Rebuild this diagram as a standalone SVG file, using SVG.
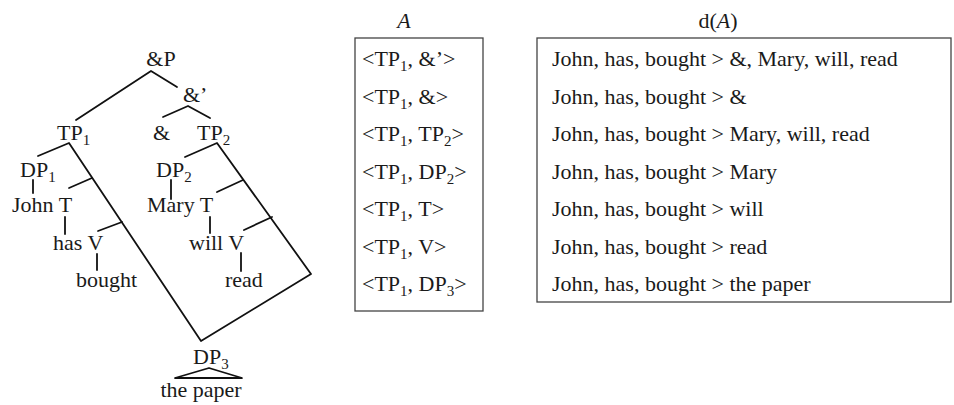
<svg xmlns="http://www.w3.org/2000/svg" width="954" height="405" viewBox="0 0 954 405">
  <style>
    text { font-family: "Liberation Serif", "Times New Roman", serif; font-size: 22px; fill: #1a1a1a; }
    .sub { font-size: 15px; }
    .it { font-style: italic; }
    .mid { text-anchor: middle; }
    .edge { stroke: #111; stroke-width: 1.8; fill: none; stroke-linecap: round; stroke-linejoin: round; }
    .box { stroke: #444; stroke-width: 1.3; fill: #fff; }
  </style>
  <rect width="954" height="405" fill="#fff"/>

  <!-- tree branches -->
  <g id="connectors">
    <path class="edge" d="M76,120 L151,71 L177,87"/>
    <path class="edge" d="M163,117 L188,106 L210,118"/>
    <path class="edge" d="M38,156 L69,143 L201,341 L311,274 L217,143 L185,157"/>
    <path class="edge" d="M92,178 L69,188"/>
    <path class="edge" d="M122,222 L98,231"/>
    <path class="edge" d="M243,180 L217,192"/>
    <path class="edge" d="M272,217 L244,230"/>
    <path class="edge" d="M33,180 L33,193"/>
    <path class="edge" d="M65,217 L65,234"/>
    <path class="edge" d="M97,254 L97,270"/>
    <path class="edge" d="M171,180 L171,199"/>
    <path class="edge" d="M210,217 L210,233"/>
    <path class="edge" d="M241,253 L241,271"/>
    <path class="edge" d="M175,378 L209,368 L242,378 Z"/>
  </g>

  <!-- tree nodes -->
  <g id="node-andP"><text x="161" y="66" class="mid">&amp;P</text></g>
  <g id="node-andBar"><text x="183" y="102">&amp;’</text></g>
  <g id="node-TP1"><text x="57" y="140">TP<tspan class="sub" dy="5">1</tspan></text></g>
  <g id="node-and"><text x="153" y="140">&amp;</text></g>
  <g id="node-TP2"><text x="197" y="140">TP<tspan class="sub" dy="5">2</tspan></text></g>
  <g id="node-DP1"><text x="20" y="177">DP<tspan class="sub" dy="5">1</tspan></text></g>
  <g id="node-DP2"><text x="156" y="177">DP<tspan class="sub" dy="5">2</tspan></text></g>
  <g id="node-John-T"><text x="12" y="212">John T</text></g>
  <g id="node-Mary-T"><text x="147" y="212">Mary T</text></g>
  <g id="node-has-V"><text x="53" y="250">has V</text></g>
  <g id="node-will-V"><text x="189" y="250">will V</text></g>
  <g id="node-bought"><text x="76" y="287">bought</text></g>
  <g id="node-read"><text x="225" y="287">read</text></g>
  <g id="node-DP3"><text x="193" y="364">DP<tspan class="sub" dy="5">3</tspan></text></g>
  <g id="node-the-paper"><text x="201" y="397" class="mid">the paper</text></g>

  <!-- table of pairs A -->
  <g id="table-A">
    <text x="404" y="28" class="mid it">A</text>
    <rect class="box" x="355" y="38" width="128" height="273"/>
    <text x="362" y="66">&lt;TP<tspan class="sub" dy="5">1</tspan><tspan dy="-5">, &amp;’&gt;</tspan></text>
    <text x="362" y="103.5">&lt;TP<tspan class="sub" dy="5">1</tspan><tspan dy="-5">, &amp;&gt;</tspan></text>
    <text x="362" y="141">&lt;TP<tspan class="sub" dy="5">1</tspan><tspan dy="-5">, TP</tspan><tspan class="sub" dy="5">2</tspan><tspan dy="-5">&gt;</tspan></text>
    <text x="362" y="178.5">&lt;TP<tspan class="sub" dy="5">1</tspan><tspan dy="-5">, DP</tspan><tspan class="sub" dy="5">2</tspan><tspan dy="-5">&gt;</tspan></text>
    <text x="362" y="216">&lt;TP<tspan class="sub" dy="5">1</tspan><tspan dy="-5">, T&gt;</tspan></text>
    <text x="362" y="253.5">&lt;TP<tspan class="sub" dy="5">1</tspan><tspan dy="-5">, V&gt;</tspan></text>
    <text x="362" y="291">&lt;TP<tspan class="sub" dy="5">1</tspan><tspan dy="-5">, DP</tspan><tspan class="sub" dy="5">3</tspan><tspan dy="-5">&gt;</tspan></text>
  </g>

  <!-- table of linearizations d(A) -->
  <g id="table-dA">
    <text x="718" y="28" class="mid">d(<tspan class="it">A</tspan>)</text>
    <rect class="box" x="537" y="38" width="414" height="264"/>
    <text x="552" y="66">John, has, bought &gt; &amp;, Mary, will, read</text>
    <text x="552" y="103.5">John, has, bought &gt; &amp;</text>
    <text x="552" y="141">John, has, bought &gt; Mary, will, read</text>
    <text x="552" y="178.5">John, has, bought &gt; Mary</text>
    <text x="552" y="216">John, has, bought &gt; will</text>
    <text x="552" y="253.5">John, has, bought &gt; read</text>
    <text x="552" y="291">John, has, bought &gt; the paper</text>
  </g>
</svg>
